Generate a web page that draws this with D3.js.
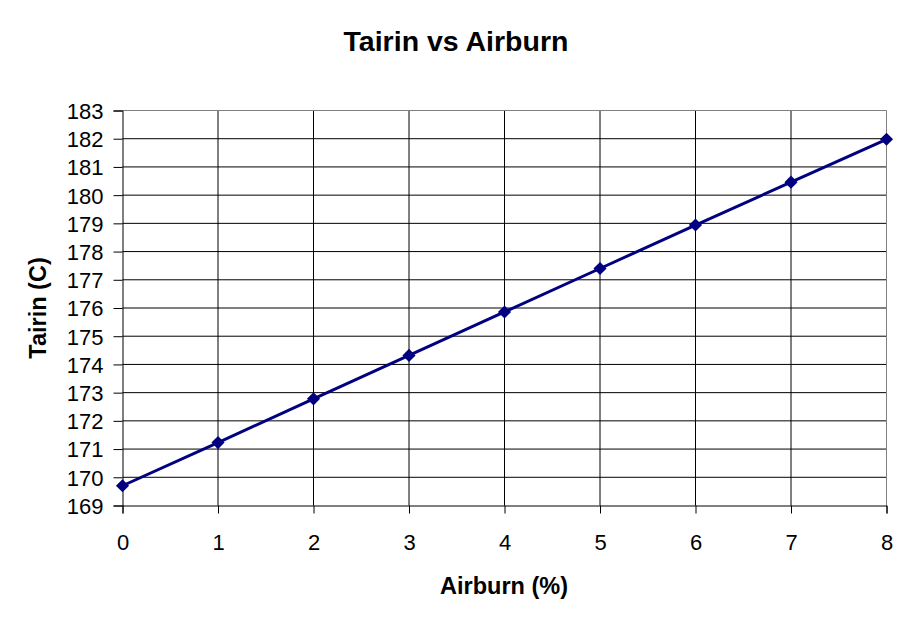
<!DOCTYPE html>
<html><head><meta charset="utf-8">
<script src="https://cdn.jsdelivr.net/npm/d3@7"></script>
<style>body{margin:0;background:#fff}svg{display:block}text{font-family:"Liberation Sans",Arial,sans-serif;fill:#000}</style>
</head><body><svg id="c" width="911" height="623"></svg>
<script>
const airburn = [0,1,2,3,4,5,6,7,8];
const tairin = [169.7,171.23,172.78,174.32,175.86,177.4,178.94,180.46,181.98];
const xTicks = [0,1,2,3,4,5,6,7,8];
const yTicks = [169,170,171,172,173,174,175,176,177,178,179,180,181,182,183];
const title = "Tairin vs Airburn", xTitle = "Airburn (%)", yTitle = "Tairin (C)";

const svg = d3.select("#c");
const L=122.5, R=886.5, T=110.5, B=505.5;
const x = d3.scaleLinear().domain([0,8]).range([L,R]);
const y = d3.scaleLinear().domain([169,183]).range([B,T]);

svg.append("g").selectAll("line").data(yTicks.slice(1,-1)).join("line")
  .attr("x1",L).attr("x2",R).attr("y1",d=>y(d)).attr("y2",d=>y(d)).attr("stroke","#000");
svg.append("g").selectAll("line").data(xTicks.slice(1,-1)).join("line")
  .attr("y1",T).attr("y2",B).attr("x1",d=>x(d)).attr("x2",d=>x(d)).attr("stroke","#000");
svg.append("path").attr("d",`M${L},${T}H${R}V${B}`).attr("fill","none").attr("stroke","#808080");

const yAxis = svg.append("g").attr("transform",`translate(${L},0)`)
  .call(d3.axisLeft(y).tickValues(yTicks).tickSize(9).tickPadding(10).tickFormat(d3.format("d")));
const xAxis = svg.append("g").attr("transform",`translate(0,${B})`)
  .call(d3.axisBottom(x).tickValues(xTicks).tickSize(8).tickPadding(21).tickFormat(d3.format("d")));
[yAxis,xAxis].forEach(a=>{
  a.select(".domain").attr("stroke","#000");
  a.selectAll(".tick line").attr("stroke","#000");
  a.selectAll("text").attr("font-size","22px").attr("font-family",'"Liberation Sans",Arial,sans-serif').attr("fill","#000");
});
yAxis.selectAll("text").attr("dy","0.36em");

const pts = airburn.map((a,i)=>[a,tairin[i]]);
svg.append("path").datum(pts)
  .attr("d",d3.line().x(d=>x(d[0])).y(d=>y(d[1])))
  .attr("fill","none").attr("stroke","#000080").attr("stroke-width",3);
svg.append("g").selectAll("path").data(pts).join("path")
  .attr("d",d3.symbol(d3.symbolDiamond2,110)())
  .attr("transform",d=>`translate(${x(d[0])},${y(d[1])})`)
  .attr("fill","#000080");

svg.append("text").attr("x",456).attr("y",51).attr("text-anchor","middle")
  .attr("font-size","28.5px").attr("font-weight","bold").text(title);
svg.append("text").attr("x",504).attr("y",594).attr("text-anchor","middle")
  .attr("font-size","23.5px").attr("font-weight","bold").text(xTitle);
svg.append("text").attr("transform","translate(46,308) rotate(-90)").attr("text-anchor","middle")
  .attr("font-size","23.5px").attr("font-weight","bold").text(yTitle);
</script></body></html>
